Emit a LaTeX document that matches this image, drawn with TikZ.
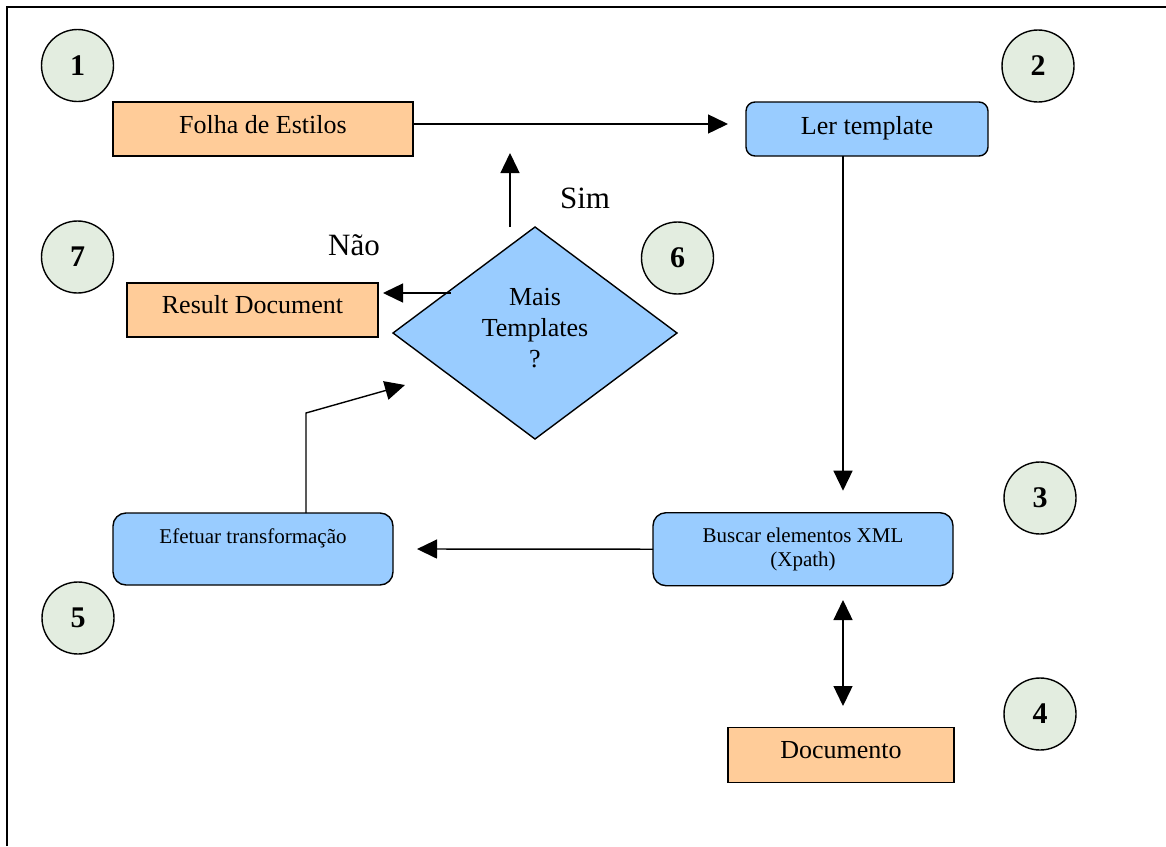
\documentclass[tikz,border=0pt]{standalone}
\usepackage{fontspec}
\setmainfont{Liberation Serif}
\usetikzlibrary{shapes.geometric,arrows.meta,calc}
\definecolor{boxorange}{HTML}{FFCC99}
\definecolor{boxblue}{HTML}{99CCFF}
\definecolor{stepgreen}{HTML}{E3EDE0}
\begin{document}
\begin{tikzpicture}[x=1pt,y=-1pt,
  every node/.style={inner sep=0pt, outer sep=0pt},
  orangebox/.style={rectangle, draw, line width=1.4pt, fill=boxorange},
  bluebox/.style={rectangle, draw, line width=1.4pt, fill=boxblue, rounded corners=#1},
  decision/.style={diamond, draw, line width=1.4pt, fill=boxblue},
  numcircle/.style={circle, draw, line width=1.4pt, fill=stepgreen, minimum size=72pt,
    font=\fontsize{30}{30}\selectfont\bfseries},
  bigtext/.style={font=\fontsize{26}{31}\selectfont},
  smalltext/.style={font=\fontsize{21}{24.3}\selectfont},
  answer/.style={font=\fontsize{31}{31}\selectfont, anchor=base},
  arr/.style={line width=1.4pt, -{Triangle[length=20pt,width=19pt]}},
  biarr/.style={line width=1.4pt, {Triangle[length=20pt,width=19pt]}-{Triangle[length=20pt,width=19pt]}},
]
\useasboundingbox (0,0) rectangle (1166,846);

% frame lines along the top and the left side
\draw[line width=2.5pt] (7,846) -- (7,7) -- (1166,7);

% process boxes
\node[orangebox, bigtext, minimum width=300pt, minimum height=54pt,
      text height=18pt, text depth=10pt] (folha) at (263,129) {Folha de Estilos};
\node[bluebox=9pt, bigtext, minimum width=242pt, minimum height=54pt,
      text height=18pt, text depth=8pt] (ler) at (867,129) {Ler template};
\node[bluebox=13pt, smalltext, align=center, minimum width=300pt, minimum height=73pt]
      (buscar) at (803,549.2) {Buscar elementos XML\\(Xpath)};
\node[orangebox, bigtext, minimum width=226pt, minimum height=54.6pt,
      text height=18pt, text depth=12pt] (doc) at (841,755) {Documento};
\node[bluebox=13pt, smalltext, minimum width=280pt, minimum height=72pt,
      text height=10pt, text depth=22pt] (efet) at (253,549) {Efetuar transformação};
\node[orangebox, bigtext, minimum width=251pt, minimum height=54pt,
      text height=18pt, text depth=12pt] (result) at (252.5,310) {Result Document};
\node[decision, bigtext, align=center, minimum width=284pt, minimum height=212pt,
      text height=80pt, text depth=12pt] (dec) at (535,333) {Mais\\Templates\\?};

% step numbers
\node[numcircle] (n1) at (77.5,65.5) {1};
\node[numcircle] (n2) at (1038,66) {2};
\node[numcircle] (n3) at (1040,498) {3};
\node[numcircle] (n4) at (1040,714) {4};
\node[numcircle] (n5) at (78,618) {5};
\node[numcircle] (n6) at (677.5,258) {6};
\node[numcircle] (n7) at (77.5,257) {7};

% branch labels
\node[answer] (sim) at (585,208) {Sim};
\node[answer] (nao) at (354,255) {Não};

% connectors
\draw[arr, shorten >=18pt] ([yshift=5pt]folha.east) -- ([yshift=5pt]ler.west);
\draw[arr, shorten >=22pt] ([xshift=-24pt]ler.south) -- ([xshift=-24pt]ler.south |- buscar.north);
\draw[biarr, shorten <=14.3pt, shorten >=21.7pt] ([xshift=2pt]doc.north |- buscar.south) -- ([xshift=2pt]doc.north);
\draw[arr, shorten >=24pt] (buscar.west) -- (efet.east);
\draw[arr] ([xshift=53pt]efet.north) -- ++(0pt,100pt) -- ($(dec.west)+(12pt,-52pt)$);
\draw[arr, shorten >=5pt] ($(dec.west)+(58pt,40pt)$) -- ([yshift=17pt]result.east);
\draw[arr] ([xshift=-25pt]dec.north) -- ++(0pt,74pt);
\end{tikzpicture}
\end{document}
